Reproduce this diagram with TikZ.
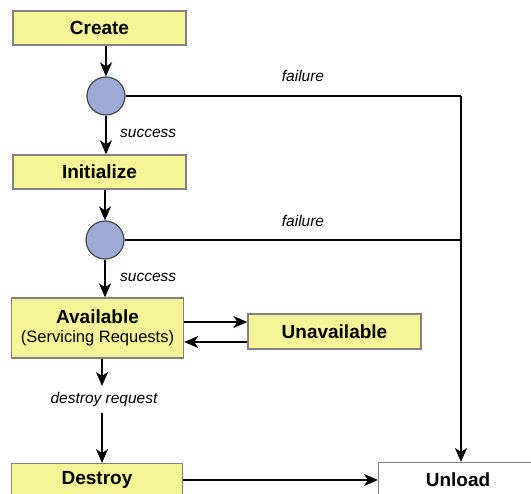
\documentclass[tikz,border=0pt]{standalone}
\usepackage{fontspec}
\setmainfont{Liberation Sans}
\usetikzlibrary{arrows.meta}
\definecolor{boxfill}{RGB}{245,245,152}
\definecolor{boxline}{RGB}{130,130,130}
\definecolor{choicefill}{RGB}{158,170,214}
\definecolor{choiceline}{RGB}{70,70,80}
\tikzset{
  state/.style={draw=boxline, line width=1.3pt, fill=boxfill, inner sep=0pt,
    font=\fontsize{19}{21}\selectfont\bfseries, align=center},
  endstate/.style={state, fill=white},
  choice/.style={circle, draw=choiceline, line width=1.2pt, fill=choicefill,
    minimum size=38pt, inner sep=0pt},
  lbl/.style={font=\fontsize{15.5}{18}\selectfont\itshape, inner sep=0pt},
  flow/.style={line width=1.8pt, -{Stealth[length=14pt,width=12pt,inset=4pt]}},
  wire/.style={line width=1.8pt}
}
\begin{document}
\begin{tikzpicture}[x=1pt,y=-1pt]
\useasboundingbox (0,0) rectangle (531,494);
\clip (0,0) rectangle (531,494);

% states
\node[state, minimum width=173pt, minimum height=34pt] (create) at (99.5,28) {Create};
\node[choice] (c1) at (106,96) {};
\node[state, minimum width=173pt, minimum height=34pt] (init) at (99.5,172) {Initialize};
\node[choice] (c2) at (105,240) {};
\node[state, minimum width=172pt, minimum height=60pt] (avail) at (97.5,328)
  {Available\\[-2pt]{\fontsize{16.5}{19}\selectfont\mdseries(Servicing Requests)}};
\node[state, minimum width=173pt, minimum height=35pt] (unavail) at (334.5,331.5) {Unavailable};
\node[state, minimum width=171pt, minimum height=36pt, anchor=north west] (destroy) at (11,463) {};
\node[font=\fontsize{19}{21}\selectfont\bfseries] at (97,480) {Destroy};
\node[endstate, minimum width=190pt, minimum height=50pt, anchor=north west] (unload) at (378,462) {};
\node[font=\fontsize{19}{21}\selectfont\bfseries] at (458,480) {Unload};

% labels
\node[lbl, anchor=west] (s1) at (120,133) {success};
\node[lbl, anchor=west] (s2) at (120,277) {success};
\node[lbl] (f1) at (303,76) {failure};
\node[lbl] (f2) at (303,221) {failure};
\node[lbl] (dreq) at (104,399) {destroy request};

% points where the connectors meet
\coordinate (j1) at (461,96);
\coordinate (j2) at (461,240);
\coordinate (dx) at (102,0);

% connectors
\draw[flow] (c1 |- create.south) -- (c1.north);
\draw[flow] (c1.south) -- (c1 |- init.north);
\draw[flow] (c2 |- init.south) -- (c2.north);
\draw[flow] (c2.south) -- (c2 |- avail.north);
\draw[flow] (avail.east |- 0,322) -- (unavail.west |- 0,322);
\draw[flow] (unavail.west |- 0,342) -- (avail.east |- 0,342);
\draw[flow] (dx |- avail.south) -- (dx |- 0,386);
\draw[flow] (dx |- 0,413) -- (dx |- destroy.north);
\draw[wire] (c1.east) -- (j1);
\draw[wire] (c2.east) -- (j2);
\draw[flow] (j1) -- (unload.north -| j1);
\draw[flow] (destroy.east |- 0,480) -- (unload.west |- 0,480);
\end{tikzpicture}
\end{document}
